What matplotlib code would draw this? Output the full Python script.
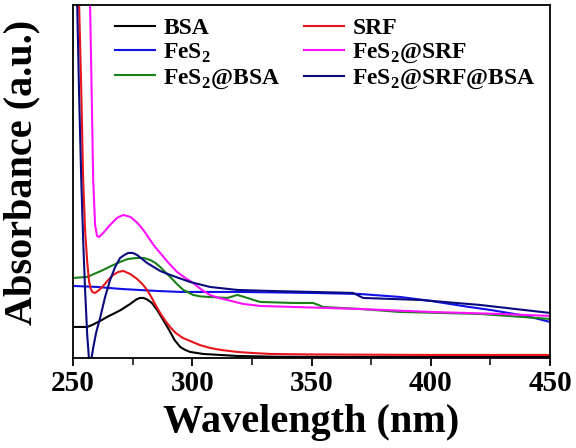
import matplotlib
matplotlib.use('Agg')
import matplotlib.pyplot as plt
from matplotlib.ticker import MultipleLocator

plt.rcParams['font.family'] = 'Liberation Serif'
plt.rcParams['font.weight'] = 'bold'
plt.rcParams['mathtext.fontset'] = 'custom'
plt.rcParams['mathtext.rm'] = 'Liberation Serif:bold'

# UV-vis spectra, values (arbitrary units)
bsa_wl = [250, 255.9, 258, 261.3, 265, 267.6, 270, 273.9, 276.5, 278, 279.5,
          281, 283, 285.2, 287, 289, 290.7, 292.5, 294.9, 297, 299.1, 304.5,
          311.6, 318.8, 335, 360, 400, 450]
bsa_abs = [0.31, 0.31, 0.33, 0.37, 0.42, 0.45, 0.48, 0.54, 0.585, 0.60, 0.60,
           0.585, 0.55, 0.48, 0.41, 0.33, 0.26, 0.18, 0.11, 0.08, 0.06, 0.04,
           0.03, 0.02, 0.012, 0.01, 0.01, 0.01]

srf_wl = [251.5, 252.5, 253.4, 254.2, 255.0, 255.9, 256.7, 257.4, 258.0, 259.2,
          260.9, 262.6, 264.7, 266.8, 268.9, 271.0, 273.9, 276.8, 279, 281.0,
          283, 285, 287, 289, 291, 293, 296, 299.0, 303, 307.4, 312, 318.8,
          325, 332.6, 350, 400, 450]
srf_abs = [4.2, 3.53, 2.68, 1.78, 1.28, 0.96, 0.76, 0.69, 0.66, 0.65,
           0.68, 0.72, 0.78, 0.83, 0.86, 0.87, 0.84, 0.79, 0.74, 0.68,
           0.60, 0.51, 0.43, 0.36, 0.30, 0.25, 0.20, 0.17, 0.13, 0.10, 0.08,
           0.06, 0.05, 0.04, 0.035, 0.03, 0.03]

fes2_wl = [250, 260, 270, 285, 295, 320, 350, 370, 387, 400, 416, 425, 440, 450]
fes2_abs = [0.72, 0.71, 0.69, 0.67, 0.66, 0.66, 0.65, 0.64, 0.61, 0.57, 0.51,
            0.48, 0.42, 0.36]

fes2_srf_wl = [256.5, 257.1, 257.8, 258.4, 259.2, 260.0, 260.9, 262.6, 265.5,
               268.4, 271.0, 274, 277, 279.4, 282, 284, 286.5, 290, 293.6, 297,
               300.3, 304, 307.4, 311, 314.6, 321.3, 328.4, 342, 370, 400,
               429, 450]
fes2_srf_abs = [4.2, 3.53, 2.6, 1.78, 1.33, 1.22, 1.21, 1.25, 1.33,
                1.40, 1.43, 1.41, 1.35, 1.28, 1.19, 1.12, 1.05, 0.95, 0.86,
                0.80, 0.75, 0.68, 0.63, 0.60, 0.58, 0.54, 0.52, 0.51, 0.49,
                0.46, 0.44, 0.42]

fes2_bsa_wl = [250, 255.9, 262.6, 266, 269.7, 273, 276.8, 279.5, 282.3, 284.5,
               286.5, 288.5, 290.7, 293.5, 296.2, 300.3, 303.5, 307.4, 314.6,
               316.8, 318.8, 321, 323, 328.4, 342, 350.6, 352.8, 354.8, 370,
               387, 420.6, 450]
fes2_bsa_abs = [0.80, 0.81, 0.88, 0.92, 0.96, 0.99, 1.00, 1.00, 0.98, 0.95,
                0.91, 0.86, 0.81, 0.74, 0.68, 0.63, 0.615, 0.61, 0.60,
                0.615, 0.63, 0.615, 0.60, 0.56, 0.55, 0.55, 0.53, 0.51, 0.49,
                0.46, 0.44, 0.39]

fes2_srf_bsa_wl = [250.5, 251.7, 252.5, 253.4, 254.2, 255.0, 255.9, 256.7,
                   257.5, 258.4, 259.6, 261.3, 263.4, 265.5, 267.6, 269.7,
                   271.5, 273.1, 275, 276.8, 281.0, 286.5, 290.7, 299.0, 307.4,
                   318.8, 332.6, 350.6, 367.4, 371.6, 395.5, 420.6, 450]
fes2_srf_bsa_abs = [4.3, 3.53, 2.63, 1.78, 1.18, 0.68, 0.23, -0.03,
                    -0.03, 0.10, 0.25, 0.40, 0.61, 0.78, 0.91, 1.00,
                    1.03, 1.05, 1.05, 1.03, 0.95, 0.87, 0.83, 0.76, 0.71,
                    0.68, 0.67, 0.66, 0.65, 0.60, 0.58, 0.53, 0.45]

series = [
    ('BSA', bsa_wl, bsa_abs, 'black'),
    (r'FeS$_\mathregular{2}$', fes2_wl, fes2_abs, '#1010e8'),
    (r'FeS$_\mathregular{2}$@BSA', fes2_bsa_wl, fes2_bsa_abs, '#1a801a'),
    ('SRF', srf_wl, srf_abs, '#e8141c'),
    (r'FeS$_\mathregular{2}$@SRF', fes2_srf_wl, fes2_srf_abs, '#ff10ff'),
    (r'FeS$_\mathregular{2}$@SRF@BSA', fes2_srf_bsa_wl, fes2_srf_bsa_abs,
     '#0a0a80'),
]

fig = plt.figure(figsize=(5.76, 4.48), dpi=100)
ax = fig.add_axes([0.127, 0.201, 0.828, 0.788])

for label, wl, ab, color in series:
    ax.plot(wl, ab, color=color, lw=1.5, label=label)

ax.set_xlim(250, 450)
ax.set_ylim(0, 3.53)
ax.set_yticks([])
ax.xaxis.set_major_locator(MultipleLocator(50))
ax.xaxis.set_minor_locator(MultipleLocator(25))
ax.tick_params(axis='x', which='major', direction='out', length=6, width=1.3,
               labelsize=21, pad=3)
ax.tick_params(axis='x', which='minor', direction='out', length=5, width=1.1)
for spine in ax.spines.values():
    spine.set_linewidth(1.3)

ax.set_xlabel('Wavelength (nm)', fontsize=29, fontweight='bold', labelpad=5)
ax.set_ylabel('Absorbance (a.u.)', fontsize=29, fontweight='bold')
ax.yaxis.set_label_coords(-0.069, 0.525)

ax.legend(ncol=2, loc='upper left', bbox_to_anchor=(0.043, 1.024),
          frameon=False, fontsize=17, handlelength=1.7, handletextpad=0.35,
          columnspacing=1.0, labelspacing=0.1)

fig.savefig('out.png', dpi=100)
